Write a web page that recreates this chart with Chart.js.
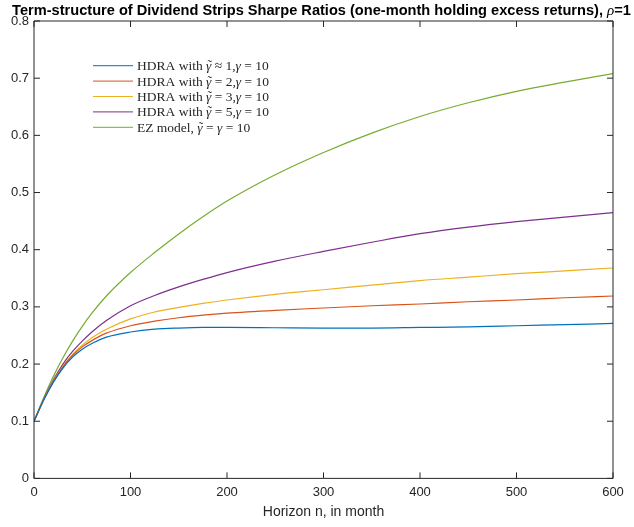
<!DOCTYPE html>
<html>
<head>
<meta charset="utf-8">
<script src="https://cdn.jsdelivr.net/npm/chart.js@4/dist/chart.umd.min.js"></script>
<style>
  body { margin: 0; background: #fff; }
  canvas { display: block; }
</style>
</head>
<body>
<canvas id="srchart" width="634" height="527"></canvas>
<script>
// horizon in months
const horizon = [0, 10, 20, 30, 40, 50, 60, 75, 100, 125, 150, 175, 200, 250, 300, 350, 400, 450, 500, 550, 600];
const hdra1 = [0.100, 0.137, 0.168, 0.193, 0.212, 0.226, 0.236, 0.247, 0.256, 0.261, 0.263, 0.264, 0.264, 0.2635, 0.263, 0.263, 0.264, 0.265, 0.267, 0.269, 0.271];
const hdra2 = [0.100, 0.137, 0.169, 0.195, 0.215, 0.230, 0.241, 0.254, 0.267, 0.275, 0.281, 0.2855, 0.289, 0.294, 0.298, 0.302, 0.305, 0.309, 0.312, 0.316, 0.319];
const hdra3 = [0.100, 0.137, 0.170, 0.196, 0.217, 0.233, 0.246, 0.261, 0.279, 0.291, 0.299, 0.306, 0.312, 0.322, 0.330, 0.338, 0.346, 0.352, 0.358, 0.363, 0.368];
const hdra5 = [0.100, 0.138, 0.172, 0.200, 0.222, 0.240, 0.256, 0.276, 0.302, 0.320, 0.335, 0.348, 0.360, 0.380, 0.397, 0.413, 0.428, 0.4395, 0.449, 0.457, 0.465];
const ezModel = [0.100, 0.141, 0.178, 0.211, 0.240, 0.266, 0.289, 0.319, 0.360, 0.395, 0.4275, 0.4575, 0.485, 0.531, 0.570, 0.604, 0.633, 0.657, 0.677, 0.693, 0.708];
const seriesLabels = [
  "HDRA with γ̃ ≈ 1,γ = 10",
  "HDRA with γ̃ = 2,γ = 10",
  "HDRA with γ̃ = 3,γ = 10",
  "HDRA with γ̃ = 5,γ = 10",
  "EZ model, γ̃ = γ = 10",
];
const xTicks = [0, 100, 200, 300, 400, 500, 600];
const yTicks = [0, 0.1, 0.2, 0.3, 0.4, 0.5, 0.6, 0.7, 0.8];
const chartTitle = "Term-structure of Dividend Strips Sharpe Ratios (one-month holding excess returns), ρ=1";
const xTitle = "Horizon n, in month";

const colors = ["#0072BD", "#D95319", "#EDB120", "#7E2F8E", "#77AC30"];
const allSeries = [hdra1, hdra2, hdra3, hdra5, ezModel];

// draws text, greek letters in italic; a combining tilde is put over its letter
function drawRich(ctx, text, x, y, font, greekFont, measureOnly) {
  const parts = text.split(/([\u03b1-\u03c9]\u0303?)/);
  let w = 0;
  parts.forEach((p, i) => {
    if (!p) return;
    if (i % 2) {
      const letter = p[0];
      ctx.font = greekFont;
      const lw = ctx.measureText(letter).width;
      if (!measureOnly) {
        ctx.fillText(letter, x + w, y);
        if (p.length > 1) {
          ctx.font = font;
          const tw = ctx.measureText("\u02dc").width;
          ctx.fillText("\u02dc", x + w + lw / 2 - tw / 2 + 1, y - 1);
        }
      }
      w += lw;
    } else {
      ctx.font = font;
      if (!measureOnly) ctx.fillText(p, x + w, y);
      w += ctx.measureText(p).width;
    }
  });
  return w;
}

const boxTicks = {
  id: "boxTicks",
  afterDatasetsDraw(chart) {
    const { ctx, chartArea: a, scales: { x, y } } = chart;
    ctx.save();
    ctx.strokeStyle = "#262626";
    ctx.lineWidth = 1;
    ctx.beginPath();
    x.ticks.forEach((t) => {
      const px = x.getPixelForValue(t.value);
      ctx.moveTo(px, a.bottom); ctx.lineTo(px, a.bottom - 6);
      ctx.moveTo(px, a.top); ctx.lineTo(px, a.top + 6);
    });
    y.ticks.forEach((t) => {
      const py = y.getPixelForValue(t.value);
      ctx.moveTo(a.left, py); ctx.lineTo(a.left + 6, py);
      ctx.moveTo(a.right, py); ctx.lineTo(a.right - 6, py);
    });
    ctx.rect(a.left, a.top, a.right - a.left, a.bottom - a.top);
    ctx.stroke();

    // title
    ctx.fillStyle = "#000";
    ctx.textBaseline = "middle";
    const tf = "bold 14.6px 'Liberation Sans', Arial, sans-serif";
    const gf = "italic 15px 'Liberation Serif', serif";
    const tw = drawRich(ctx, chartTitle, 0, 0, tf, gf, true);
    drawRich(ctx, chartTitle, (a.left + a.right) / 2 - tw / 2 - 2, 11, tf, gf);

    // legend
    const lf = "13.5px 'Liberation Serif', serif";
    const lg = "italic 13.5px 'Liberation Serif', serif";
    chart.data.datasets.forEach((ds, i) => {
      const ly = a.top + 44.7 + i * 15.4;
      ctx.strokeStyle = ds.borderColor;
      ctx.beginPath();
      ctx.moveTo(a.left + 59, ly); ctx.lineTo(a.left + 99, ly);
      ctx.stroke();
      ctx.fillStyle = "#262626";
      drawRich(ctx, ds.label, a.left + 103, ly + 1, lf, lg);
    });
    ctx.restore();
  },
};

const tickFont = { family: "'Liberation Sans', Arial, sans-serif", size: 13 };

new Chart(document.getElementById("srchart"), {
  type: "line",
  data: {
    datasets: allSeries.map((s, i) => ({
      label: seriesLabels[i],
      data: s.map((v, k) => ({ x: horizon[k], y: v })),
      borderColor: colors[i],
      borderWidth: 1.2,
      pointRadius: 0,
      cubicInterpolationMode: "monotone",
      fill: false,
    })),
  },
  options: {
    responsive: false,
    animation: false,
    layout: { padding: { top: 21, right: 21, left: 0, bottom: 0 } },
    plugins: { legend: { display: false }, title: { display: false }, tooltip: { enabled: false } },
    scales: {
      x: {
        type: "linear",
        min: 0,
        max: 600,
        afterBuildTicks: (s) => { s.ticks = xTicks.map((v) => ({ value: v })); },
        afterFit: (s) => { s.height = 48.6; },
        grid: { display: false, drawTicks: false },
        border: { display: false },
        ticks: { font: tickFont, color: "#262626", padding: 6, maxRotation: 0 },
        title: { display: true, text: xTitle, font: { family: tickFont.family, size: 14 }, color: "#262626", padding: { top: 0, bottom: 6 } },
      },
      y: {
        type: "linear",
        min: 0,
        max: 0.8,
        afterBuildTicks: (s) => { s.ticks = yTicks.map((v) => ({ value: v })); },
        afterFit: (s) => { s.width = 34; },
        grid: { display: false, drawTicks: false },
        border: { display: false },
        ticks: { font: tickFont, color: "#262626", padding: 5 },
      },
    },
  },
  plugins: [boxTicks],
});
</script>
</body>
</html>
